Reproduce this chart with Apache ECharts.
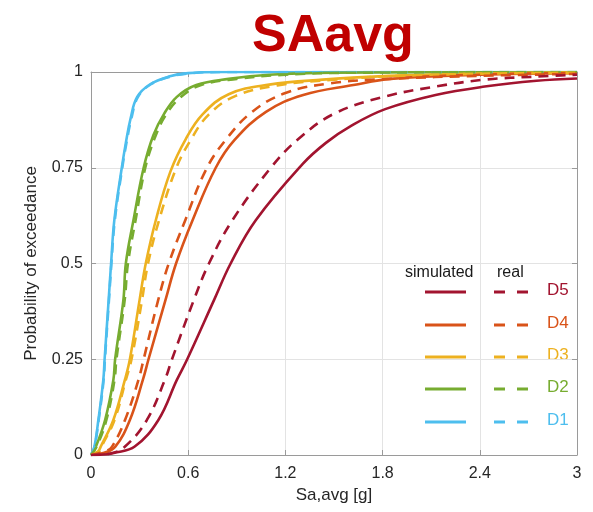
<!DOCTYPE html>
<html>
<head>
<meta charset="utf-8">
<script src="https://cdn.jsdelivr.net/npm/echarts@6/dist/echarts.min.js"></script>
<style>
  html, body { margin: 0; padding: 0; background: #ffffff; }
  #chart { width: 593px; height: 512px; }
</style>
</head>
<body>
<div id="chart"></div>
<script>
// Fragility curves: probability of exceedance vs Sa,avg [g]
const damageStates = ['D1', 'D2', 'D3', 'D4', 'D5'];
const stateColors = ['#4DBEEE', '#77AC30', '#EDB120', '#D95319', '#A2142F'];
const xTicks = [0, 0.6, 1.2, 1.8, 2.4, 3];
const yTicks = [0, 0.25, 0.5, 0.75, 1];

// [Sa,avg, P] pairs, simulated
const d1Simulated = [[0,0],[0.02,0.02],[0.045,0.09],[0.076,0.196],[0.084,0.25],[0.109,0.405],[0.124,0.5],[0.144,0.613],[0.19,0.75],[0.215,0.815],[0.245,0.88],[0.285,0.935],[0.365,0.968],[0.48,0.988],[0.6,0.997],[0.8,1],[3,1]];
const d2Simulated = [[0,0],[0.03,0.022],[0.087,0.0915],[0.138,0.196],[0.149,0.25],[0.2,0.405],[0.215,0.5],[0.262,0.613],[0.325,0.75],[0.385,0.835],[0.45,0.89],[0.53,0.935],[0.65,0.966],[0.85,0.982],[1.1,0.993],[1.5,0.998],[3,1]];
const d3Simulated = [[0,0],[0.045,0.01],[0.06,0.022],[0.138,0.0915],[0.209,0.196],[0.24,0.25],[0.3,0.405],[0.338,0.5],[0.4,0.613],[0.49,0.74],[0.585,0.825],[0.69,0.89],[0.85,0.942],[1.1,0.967],[1.43,0.98],[1.84,0.99],[2.4,0.996],[3,0.999]];
const d4Simulated = [[0,0],[0.076,0.005],[0.15,0.022],[0.24,0.0915],[0.32,0.196],[0.355,0.25],[0.46,0.405],[0.525,0.5],[0.627,0.613],[0.77,0.75],[0.885,0.822],[1.08,0.896],[1.31,0.94],[1.62,0.966],[1.85,0.982],[2.4,0.993],[3,0.997]];
const d5Simulated = [[0,0],[0.1,0.002],[0.14,0.005],[0.27,0.022],[0.416,0.0915],[0.53,0.196],[0.594,0.25],[0.76,0.405],[0.862,0.5],[1.017,0.613],[1.307,0.76],[1.45,0.815],[1.608,0.86],[1.816,0.903],[2.127,0.94],[2.43,0.962],[2.75,0.977],[3,0.983]];

// [Sa,avg, P] pairs, real
const d1Real = [[0,0],[0.021,0.02],[0.047,0.09],[0.078,0.196],[0.086,0.25],[0.111,0.405],[0.126,0.5],[0.147,0.613],[0.193,0.75],[0.219,0.815],[0.25,0.88],[0.29,0.935],[0.37,0.968],[0.49,0.988],[0.62,0.997],[0.82,1],[3,1]];
const d2Real = [[0,0],[0.035,0.022],[0.095,0.0915],[0.145,0.196],[0.157,0.25],[0.208,0.405],[0.228,0.5],[0.275,0.613],[0.335,0.75],[0.4,0.835],[0.465,0.89],[0.555,0.935],[0.68,0.966],[0.9,0.982],[1.2,0.993],[1.6,0.998],[3,1]];
const d3Real = [[0,0],[0.05,0.01],[0.065,0.022],[0.145,0.0915],[0.215,0.196],[0.25,0.25],[0.315,0.405],[0.352,0.5],[0.42,0.613],[0.525,0.748],[0.615,0.822],[0.725,0.888],[0.89,0.937],[1.15,0.965],[1.5,0.98],[1.9,0.99],[2.5,0.996],[3,0.998]];
const d4Real = [[0,0],[0.09,0.01],[0.13,0.022],[0.21,0.0915],[0.293,0.196],[0.325,0.25],[0.415,0.405],[0.48,0.5],[0.582,0.613],[0.71,0.745],[0.83,0.822],[0.995,0.896],[1.2,0.945],[1.47,0.97],[1.845,0.982],[2.4,0.99],[3,0.995]];
const d5Real = [[0,0],[0.12,0.004],[0.21,0.022],[0.345,0.0915],[0.456,0.196],[0.5,0.25],[0.635,0.405],[0.728,0.5],[0.873,0.613],[1.11,0.75],[1.28,0.825],[1.505,0.892],[1.816,0.936],[2.127,0.962],[2.43,0.98],[2.75,0.988],[3,0.993]];

const simulatedSets = [d1Simulated, d2Simulated, d3Simulated, d4Simulated, d5Simulated];
const realSets = [d1Real, d2Real, d3Real, d4Real, d5Real];

const FONT = 'Liberation Sans, Arial, Helvetica, sans-serif';
const TEXT = '#262626';
const BOX = '#9a9a9a';
const dashPattern = [10, 7];

const chart = echarts.init(document.getElementById('chart'), null, { renderer: 'canvas' });

const series = [];
damageStates.forEach((name, i) => {
  series.push({
    name: name + ' simulated',
    type: 'line',
    data: simulatedSets[i],
    showSymbol: false,
    smooth: 0.4,
    clip: true,
    lineStyle: { color: stateColors[i], width: 2.6, type: 'solid' },
    z: 2 + i,
    silent: true
  });
});
damageStates.forEach((name, i) => {
  series.push({
    name: name + ' real',
    type: 'line',
    data: realSets[i],
    showSymbol: false,
    smooth: 0.4,
    clip: true,
    lineStyle: { color: stateColors[i], width: 2.6, type: dashPattern },
    z: 8 + i,
    silent: true
  });
});

// Legend block: two columns (simulated / real) and a coloured label per state
const legendX = { solidStart: 425, solidEnd: 466, dashStart: 494, dashEnd: 528, label: 547 };
const legendHeaderY = 273;
const legendRowY = [422, 389, 357, 325, 292]; // D1 .. D5
const legendGraphics = [
  { type: 'text', left: 405, top: legendHeaderY - 8,
    style: { text: 'simulated', font: '16px ' + FONT, fill: '#1a1a1a' } },
  { type: 'text', left: 497, top: legendHeaderY - 8,
    style: { text: 'real', font: '16px ' + FONT, fill: '#1a1a1a' } }
];
damageStates.forEach((name, i) => {
  const y = legendRowY[i];
  legendGraphics.push({ type: 'line', shape: { x1: legendX.solidStart, y1: y, x2: legendX.solidEnd, y2: y },
    style: { stroke: stateColors[i], lineWidth: 3 } });
  legendGraphics.push({ type: 'line', shape: { x1: legendX.dashStart, y1: y, x2: legendX.dashEnd, y2: y },
    style: { stroke: stateColors[i], lineWidth: 3, lineDash: [11, 12] } });
  legendGraphics.push({ type: 'text', left: legendX.label, top: y - 10,
    style: { text: name, font: '17px ' + FONT, fill: stateColors[i] } });
});

const fmt = v => {
  const hit = xTicks.concat(yTicks).find(t => Math.abs(t - v) < 1e-9);
  return hit === undefined ? '' : String(hit);
};

chart.setOption({
  animation: false,
  backgroundColor: '#ffffff',
  title: {
    text: 'SAavg',
    left: 247,
    top: 6,
    textStyle: { fontSize: 52, fontWeight: 'bold', color: '#C00000', fontFamily: FONT }
  },
  grid: { left: 91, right: 16, top: 72, bottom: 57, containLabel: false },
  xAxis: [{
    type: 'value', min: 0, max: 3, interval: 0.6,
    name: 'Sa,avg [g]', nameLocation: 'middle', nameGap: 31,
    nameTextStyle: { fontSize: 17, color: TEXT, fontFamily: FONT },
    axisLine: { show: true, onZero: false, lineStyle: { color: BOX, width: 1 } },
    axisTick: { show: true, inside: true, length: 5, lineStyle: { color: BOX } },
    axisLabel: { fontSize: 16, color: TEXT, fontFamily: FONT, margin: 11, formatter: fmt },
    splitLine: { show: true, lineStyle: { color: '#e3e3e3', width: 1 } }
  }, {
    type: 'value', min: 0, max: 3, interval: 0.6, position: 'top',
    axisLine: { show: true, onZero: false, lineStyle: { color: BOX, width: 1 } },
    axisTick: { show: true, inside: true, length: 5, lineStyle: { color: BOX } },
    axisLabel: { show: false }, splitLine: { show: false }
  }],
  yAxis: [{
    type: 'value', min: 0, max: 1, interval: 0.25,
    name: 'Probability of exceedance', nameLocation: 'middle', nameGap: 51, nameRotate: 90,
    nameTextStyle: { fontSize: 17, color: TEXT, fontFamily: FONT },
    axisLine: { show: true, onZero: false, lineStyle: { color: BOX, width: 1 } },
    axisTick: { show: true, inside: true, length: 5, lineStyle: { color: BOX } },
    axisLabel: { fontSize: 16, color: TEXT, fontFamily: FONT, margin: 8, formatter: fmt },
    splitLine: { show: true, lineStyle: { color: '#e3e3e3', width: 1 } }
  }, {
    type: 'value', min: 0, max: 1, interval: 0.25, position: 'right',
    axisLine: { show: true, onZero: false, lineStyle: { color: BOX, width: 1 } },
    axisTick: { show: true, inside: true, length: 5, lineStyle: { color: BOX } },
    axisLabel: { show: false }, splitLine: { show: false }
  }],
  series: series,
  graphic: legendGraphics
});
</script>
</body>
</html>
